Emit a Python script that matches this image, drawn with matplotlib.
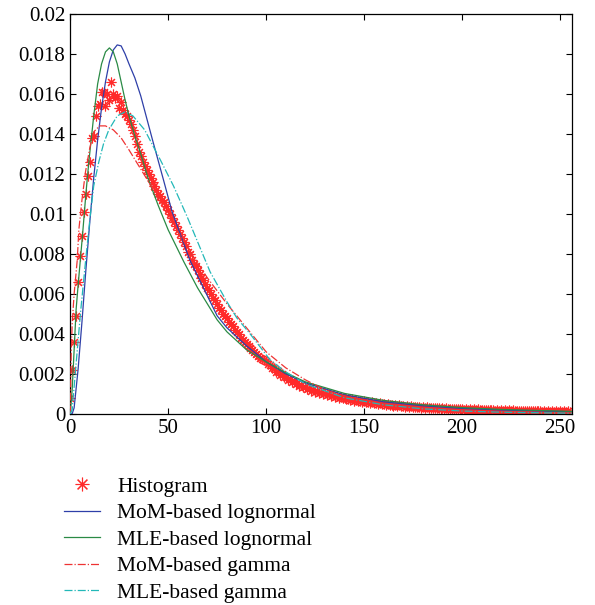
import matplotlib
matplotlib.use('Agg')
import matplotlib.pyplot as plt

# histogram of grey levels 0..255 (values in units of 1e-4)
hist_e4 = [
    8, 22, 36, 49, 66, 79, 89, 101, 110, 119,
    126, 138, 139, 149, 154, 155, 161, 161, 154, 160,
    157, 166, 160, 158, 159, 153, 156, 152, 150, 149,
    147, 145, 142, 139, 135, 131, 129, 126, 124, 122,
    120, 118, 116, 114, 112, 110, 109, 107, 106, 104,
    102, 100, 98, 96, 94, 92, 90, 88, 86, 84,
    81, 80, 77, 75, 74, 72, 70, 68, 67, 65,
    63, 62, 60, 58, 57, 55, 53, 52, 50, 49,
    48, 46, 45, 44, 42, 41, 40, 38, 37, 36,
    35, 34, 33, 32, 31, 30, 29, 28, 27.5, 27,
    26.5, 25, 24.5, 23, 23, 21, 21.5, 19.5, 20, 18.5,
    18.5, 17, 17.5, 16, 16.5, 15, 15.5, 14, 14.5, 13.5,
    13.5, 12.5, 13, 11.5, 12.2, 11, 11.6, 10.5, 10.9, 10,
    10.3, 9.5, 9.9, 9, 9.4, 8.5, 8.9, 8.1, 8.3, 7.7,
    8.0, 7.3, 7.6, 7.0, 7.3, 6.6, 6.9, 6.3, 6.6, 6.0,
    6.2, 5.7, 6.0, 5.4, 5.7, 5.2, 5.5, 5.0, 5.2, 4.7,
    5.0, 4.5, 4.8, 4.3, 4.6, 4.1, 4.4, 3.9, 4.2, 3.8,
    4.0, 3.6, 3.9, 3.5, 3.7, 3.3, 3.6, 3.2, 3.5, 3.1,
    3.3, 3.0, 3.2, 2.9, 3.1, 2.7, 3.0, 2.7, 2.9, 2.5,
    2.8, 2.5, 2.7, 2.4, 2.6, 2.3, 2.6, 2.2, 2.5, 2.2,
    2.4, 2.1, 2.4, 2.0, 2.3, 2.0, 2.2, 1.9, 2.2, 1.8,
    2.1, 1.8, 2.1, 1.7, 2.0, 1.7, 1.9, 1.6, 1.9, 1.6,
    1.8, 1.5, 1.8, 1.5, 1.7, 1.4, 1.7, 1.4, 1.6, 1.4,
    1.6, 1.3, 1.6, 1.3, 1.5, 1.2, 1.5, 1.2, 1.5, 1.2,
    1.4, 1.1, 1.4, 1.1, 1.4, 1.1, 1.3, 1.0, 1.3, 1.0,
    1.3, 1.0, 1.2, 0.9, 1.2, 0.9,
]
hist_x = list(range(len(hist_e4)))
hist_y = [v * 1e-4 for v in hist_e4]

# fitted pdfs
mom_ln_x = [0, 1, 2, 4, 6, 8, 10, 12, 14, 16, 18, 20, 22, 24, 26, 28, 30, 33, 36, 42,
            47.6, 52, 61, 75, 80, 90, 100, 110, 120, 140, 160, 180, 200, 220, 256]
mom_ln_y = [0, 0, 0.0003, 0.0022, 0.0046, 0.0072, 0.0096, 0.0118, 0.0137, 0.0153, 0.0166,
            0.0176, 0.0182, 0.01845, 0.0184, 0.0180, 0.0175, 0.0168, 0.0159, 0.0137,
            0.0117, 0.0101, 0.0077, 0.0049, 0.0043, 0.0034, 0.0026, 0.0020, 0.00155,
            0.00095, 0.0006, 0.0004, 0.00027, 0.00019, 0.0001]

mle_ln_x = [0, 1, 2, 3, 4, 5, 6.5, 8, 9.5, 12, 14, 16, 18, 20, 22, 24, 26, 28, 30, 33,
            36, 40, 45, 50, 58, 65, 75, 80, 90, 100, 110, 120, 140, 160, 180, 200, 220, 256]
mle_ln_y = [0, 0.0012, 0.0032, 0.0052, 0.0064, 0.0075, 0.0092, 0.0110, 0.0126, 0.0149,
            0.0165, 0.0175, 0.0181, 0.0183, 0.0181, 0.0175, 0.0166, 0.0157, 0.0149, 0.0139,
            0.0130, 0.0117, 0.0104, 0.0092, 0.0076, 0.0063, 0.0047, 0.0041, 0.0032, 0.0026,
            0.00205, 0.0016, 0.00102, 0.00067, 0.00045, 0.00031, 0.00022, 0.00012]

mom_ga_x = [0, 0.5, 1, 2, 3.6, 4.4, 6, 7.8, 10, 12, 15, 18, 22, 26, 30, 35, 40, 50, 60,
            70, 80, 90, 100, 110, 120, 130, 140, 160, 180, 200, 220, 256]
mom_ga_y = [0, 0.0030, 0.0045, 0.0060, 0.0077, 0.0092, 0.0107, 0.0121, 0.0133, 0.0141,
            0.0144, 0.0144, 0.0142, 0.0138, 0.0132, 0.0124, 0.0116, 0.0099, 0.0083, 0.0068,
            0.0055, 0.0043, 0.0031, 0.0023, 0.0017, 0.0012, 0.0009, 0.0005, 0.0003,
            0.00016, 0.0001, 0.00004]

mle_ga_x = [0, 1, 3, 5.3, 7.8, 10, 12, 14.6, 17, 19.7, 24, 28, 32, 38, 46, 52.7, 59.5, 66.3,
            71.4, 80, 85, 91.8, 102, 110, 120, 140, 160, 180, 200, 220, 256]
mle_ga_y = [0, 0.0002, 0.0025, 0.0051, 0.0076, 0.0097, 0.0114, 0.0126, 0.0135, 0.0142,
            0.0149, 0.0151, 0.0149, 0.0142, 0.0127, 0.0114, 0.0099, 0.0083, 0.0071, 0.0056,
            0.0048, 0.0040, 0.0027, 0.0021, 0.0015, 0.0008, 0.00045, 0.00025, 0.00014,
            0.00008, 0.00003]

yticks = [0, 0.002, 0.004, 0.006, 0.008, 0.01, 0.012, 0.014, 0.016, 0.018, 0.02]
ytick_labels = ['0', '0.002', '0.004', '0.006', '0.008', '0.01', '0.012', '0.014',
                '0.016', '0.018', '0.02']
xticks = [0, 50, 100, 150, 200, 250]

plt.rcParams['font.family'] = ['Liberation Serif', 'DejaVu Serif']

fig = plt.figure(figsize=(5.95, 6.05), dpi=100)
ax = fig.add_axes([0.118, 0.316, 0.843, 0.661])

h0, = ax.plot(hist_x, hist_y, ls='none', marker=(8, 2, 0), ms=7, mew=0.8,
              color='#ff2a2a', label='Histogram', zorder=2)
h1, = ax.plot(mom_ln_x, mom_ln_y, color='#2e3fa8', lw=0.9, label='MoM-based lognormal', zorder=3)
h2, = ax.plot(mle_ln_x, mle_ln_y, color='#2a8a45', lw=0.9, label='MLE-based lognormal', zorder=3)
h3, = ax.plot(mom_ga_x, mom_ga_y, color='#ee3333', lw=0.9, ls='-.', label='MoM-based gamma', zorder=3)
h4, = ax.plot(mle_ga_x, mle_ga_y, color='#22b8b8', lw=0.9, ls='-.', label='MLE-based gamma', zorder=3)

ax.set_xlim(0, 256)
ax.set_ylim(0, 0.02)
ax.set_xticks(xticks)
ax.set_yticks(yticks)
ax.set_yticklabels(ytick_labels)
ax.tick_params(direction='in', top=True, right=True, labelsize=15, length=4, width=0.8)
for s in ax.spines.values():
    s.set_linewidth(0.9)

fig.legend(handles=[h0, h1, h2, h3, h4], loc='upper left', bbox_to_anchor=(0.108, 0.212),
           frameon=False, fontsize=15.5, handlelength=1.65, handletextpad=0.8,
           labelspacing=0.3, borderpad=0, borderaxespad=0, markerscale=1.4)

fig.savefig('out.png', dpi=100)
